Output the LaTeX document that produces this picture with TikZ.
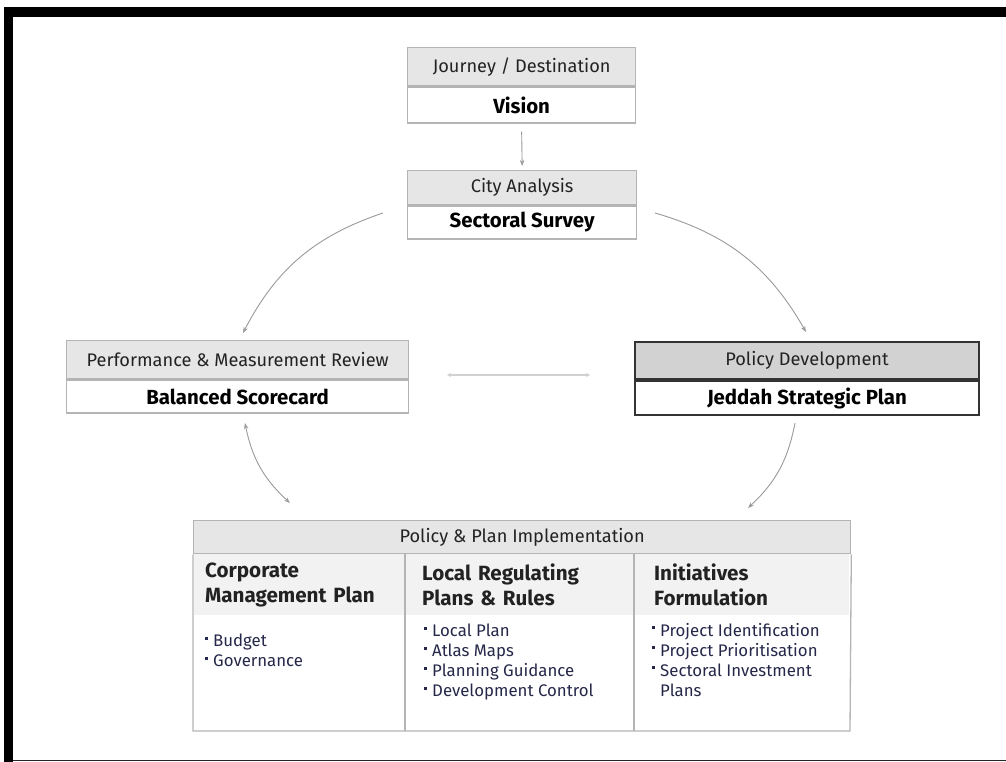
\documentclass[tikz,border=0pt]{standalone}
\usepackage{fontspec}
\setmainfont{Fira Sans}
\usetikzlibrary{arrows.meta,calc}
\definecolor{boxline}{HTML}{B4B4B4}
\definecolor{hdrfill}{HTML}{E6E6E6}
\definecolor{hdrdark}{HTML}{D2D2D2}
\definecolor{colfill}{HTML}{F2F2F2}
\definecolor{arrowgray}{HTML}{9A9A9A}
\definecolor{txtdark}{HTML}{222222}
\definecolor{txtnavy}{HTML}{26284A}
\newcommand{\bul}{\makebox[8pt][l]{\raisebox{0.42em}{\rule{3.2pt}{3.2pt}}}}
\begin{document}
\begin{tikzpicture}[x=1pt,y=-1pt,
  hdr/.style={draw=boxline, fill=hdrfill, line width=1.3, anchor=north west, inner sep=0pt,
    text=txtdark, font=\fontsize{18.2}{21}\selectfont},
  body/.style={draw=boxline, fill=white, line width=1.3, anchor=north, inner sep=0pt,
    text=black, font=\fontsize{20.4}{23}\bfseries},
  colhead/.style={anchor=north west, inner xsep=0pt, inner ysep=0pt,
    align=left, text=txtdark, font=\fontsize{20.6}{25}\bfseries},
  bullets/.style={anchor=north west, inner sep=0pt, align=left, text=txtnavy,
    font=\fontsize{16.8}{20}\selectfont},
  conn/.style={draw=arrowgray, line width=0.9, -{Stealth[length=6pt,width=4.5pt]}},
  conn2/.style={draw=arrowgray, line width=0.9, {Stealth[length=6pt,width=4.5pt]}-{Stealth[length=6pt,width=4.5pt]}}
]
\useasboundingbox (0,0) rectangle (1006,762);
\fill[white] (0,0) rectangle (1006,762);
% page frame
\fill[black] (4,7) rectangle (1006,17);
\fill[black] (4,7) rectangle (13,762);
\draw[line width=1.6, black!85] (13,760.5) -- (1006,760.5);

% Vision
\node[hdr, minimum width=228, minimum height=38] (visH) at (407,47) {Journey / Destination};
\node[body, minimum width=228, minimum height=36] (vis) at (visH.south) {Vision};

% Sectoral survey
\node[hdr, minimum width=229, minimum height=34] (secH) at (407,170) {City Analysis};
\node[body, minimum width=229, minimum height=33] (sec) at (secH.south) {Sectoral Survey};

% Balanced scorecard
\node[hdr, minimum width=342, minimum height=38] (balH) at (66,340) {Performance \& Measurement Review};
\node[body, minimum width=342, minimum height=33] (bal) at (balH.south) {Balanced Scorecard};

% Jeddah strategic plan
\node[hdr, draw=black!80, fill=hdrdark, line width=2, minimum width=344, minimum height=37] (jspH) at (634,341) {Policy Development};
\node[body, draw=black!80, line width=2, minimum width=344, minimum height=34] (jsp) at (jspH.south) {Jeddah Strategic Plan};

% Implementation table: column title band
\fill[colfill] (194,553.7) rectangle (849.3,615);
\node[hdr, fill=hdrfill, minimum width=657, minimum height=33] (imp) at (193,520) {Policy \& Plan Implementation};
\node[colhead, text width=190, minimum height=62] (c1h) at (205,553.7) {Corporate\\Management Plan};
\node[colhead, text width=200, minimum height=62] (c2h) at (422,553.7) {Local Regulating\\Plans \& Rules};
\node[colhead, text width=190, minimum height=62] (c3h) at (654,553.7) {Initiatives\\Formulation};
\draw[boxline, line width=1.3] (imp.south west) -- (193,731) -- (850,731) -- (imp.south east);
\draw[boxline, line width=1.3] (405,553) -- (405,731);
\draw[boxline, line width=1.3] (634,553) -- (634,731);

\node[bullets] (b1) at (205,634) {\bul Budget\\\bul Governance};
\node[bullets] (b2) at (424,624) {\bul Local Plan\\\bul Atlas Maps\\\bul Planning Guidance\\\bul Development Control};
\node[bullets] (b3) at (652,623) {\bul Project Identification\\\bul Project Prioritisation\\\bul Sectoral Investment\\\hspace*{8pt}Plans};

% connector end points
\coordinate (p1) at (383,213);
\coordinate (p2) at (243,333);
\coordinate (p3) at (655,213);
\coordinate (p4) at (806,332);
\coordinate (p5) at (795,423);
\coordinate (p6) at (748,508);
\coordinate (p7) at (245,423);
\coordinate (p8) at (290,503);
\coordinate (p9) at (447,375);
\coordinate (p10) at (590,375);

\draw[conn] ($(vis.south)+(0,8)$) -- ($(secH.north)+(0,-4)$);
\draw[conn] (p1) to[bend right=22] (p2);
\draw[conn] (p3) to[bend left=22] (p4);
\draw[conn] (p5) to[bend left=18] (p6);
\draw[conn2] (p7) to[bend right=18] (p8);
\draw[draw=black!18, line width=1.3, {Stealth[length=4pt,width=4pt]}-{Stealth[length=4pt,width=4pt]}] (p9) -- (p10);
\end{tikzpicture}
\end{document}
